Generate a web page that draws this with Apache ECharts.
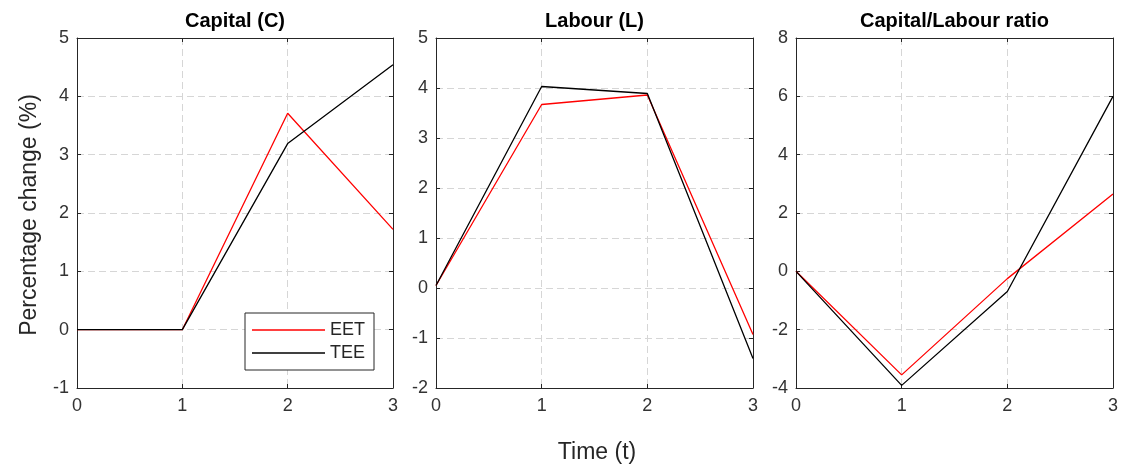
<!DOCTYPE html>
<html>
<head>
<meta charset="utf-8">
<script src="https://cdn.jsdelivr.net/npm/echarts@6/dist/echarts.min.js"></script>
<style>
html,body{margin:0;padding:0;background:#fff;}
#chart{width:1123px;height:471px;}
</style>
</head>
<body>
<div id="chart"></div>
<script>
// ---- Data ----
const times = [0, 1, 2, 3];
const panelTitles = ['Capital (C)', 'Labour (L)', 'Capital/Labour ratio'];
const seriesNames = ['EET', 'TEE'];
const capitalEET = [0, 0, 3.71, 1.72];
const capitalTEE = [0, 0, 3.19, 4.54];
const labourEET = [0.05, 3.67, 3.86, -0.93];
const labourTEE = [0.05, 4.03, 3.89, -1.41];
const ratioEET = [0, -3.55, -0.25, 2.65];
const ratioTEE = [0, -3.91, -0.69, 6.0];
const yMins = [-1, -2, -4];
const yMaxs = [5, 5, 8];
const yIntervals = [1, 1, 2];
const xLabel = 'Time (t)';
const yLabel = 'Percentage change (%)';

// ---- Layout / style ----
const FONT = '"Liberation Sans", Arial, Helvetica, sans-serif';
const AX = '#262626';
const grids = [
  {left: 77, top: 38, width: 316, height: 350},
  {left: 436, top: 38, width: 317, height: 350},
  {left: 796, top: 38, width: 317, height: 350}
];
const panelData = [
  [capitalEET, capitalTEE],
  [labourEET, labourTEE],
  [ratioEET, ratioTEE]
];
const colors = ['#ff0000', '#000000'];

const xAxes = [], yAxes = [], series = [], graphics = [];
grids.forEach((g, i) => {
  xAxes.push({
    type: 'value', gridIndex: i, min: 0, max: 3, interval: 1, position: 'bottom',
    axisLine: {show: true, onZero: false, lineStyle: {color: AX, width: 1}},
    axisTick: {show: true, inside: true, length: 4, lineStyle: {color: AX}},
    axisLabel: {show: true, color: '#333', fontSize: 18, fontFamily: FONT, margin: 9},
    splitLine: {show: true, lineStyle: {color: '#d6d6d6', type: [7, 4], width: 1}}
  });
  xAxes.push({
    type: 'value', gridIndex: i, min: 0, max: 3, interval: 1, position: 'top',
    axisLine: {show: true, onZero: false, lineStyle: {color: AX, width: 1}},
    axisTick: {show: true, inside: true, length: 4, lineStyle: {color: AX}},
    axisLabel: {show: false}, splitLine: {show: false}
  });
  yAxes.push({
    type: 'value', gridIndex: i, min: yMins[i], max: yMaxs[i], interval: yIntervals[i], position: 'left',
    axisLine: {show: true, onZero: false, lineStyle: {color: AX, width: 1}},
    axisTick: {show: true, inside: true, length: 4, lineStyle: {color: AX}},
    axisLabel: {show: true, color: '#333', fontSize: 18, fontFamily: FONT, margin: 8},
    splitLine: {show: true, lineStyle: {color: '#d6d6d6', type: [7, 4], width: 1}}
  });
  yAxes.push({
    type: 'value', gridIndex: i, min: yMins[i], max: yMaxs[i], interval: yIntervals[i], position: 'right',
    axisLine: {show: true, onZero: false, lineStyle: {color: AX, width: 1}},
    axisTick: {show: true, inside: true, length: 4, lineStyle: {color: AX}},
    axisLabel: {show: false}, splitLine: {show: false}
  });
  panelData[i].forEach((vals, k) => {
    series.push({
      name: seriesNames[k], type: 'line', xAxisIndex: i * 2, yAxisIndex: i * 2,
      data: times.map((t, j) => [t, vals[j]]),
      symbol: 'none', showSymbol: false, silent: true, animation: false,
      lineStyle: {color: colors[k], width: 1.3}, itemStyle: {color: colors[k]},
      z: k === 0 ? 3 : 4
    });
  });
  graphics.push({
    type: 'text', x: g.left + g.width / 2, y: 21,
    style: {text: panelTitles[i], font: 'bold 20px ' + FONT, fill: '#000', textAlign: 'center', textVerticalAlign: 'middle'}
  });
});
graphics.push({
  type: 'text', x: 597, y: 453,
  style: {text: xLabel, font: '23px ' + FONT, fill: '#262626', textAlign: 'center', textVerticalAlign: 'middle'}
});
graphics.push({
  type: 'text', x: 30, y: 215, rotation: Math.PI / 2,
  style: {text: yLabel, font: '23px ' + FONT, fill: '#262626', textAlign: 'center', textVerticalAlign: 'middle'}
});

const chart = echarts.init(document.getElementById('chart'), null, {renderer: 'canvas'});
chart.setOption({
  animation: false,
  backgroundColor: '#fff',
  grid: grids,
  xAxis: xAxes,
  yAxis: yAxes,
  series: series,
  legend: {
    data: seriesNames.map((n, k) => ({name: n, icon: 'rect', itemStyle: {color: colors[k]}})),
    orient: 'vertical', left: 245, top: 313,
    itemWidth: 73, itemHeight: 1.5, itemGap: 5, padding: [8, 9, 8, 7],
    borderColor: AX, borderWidth: 1, backgroundColor: '#fff',
    textStyle: {fontSize: 18, fontFamily: FONT, color: '#262626', padding: [0, 0, 0, 0]},
    selectedMode: false
  },
  graphic: graphics
});
</script>
</body>
</html>
